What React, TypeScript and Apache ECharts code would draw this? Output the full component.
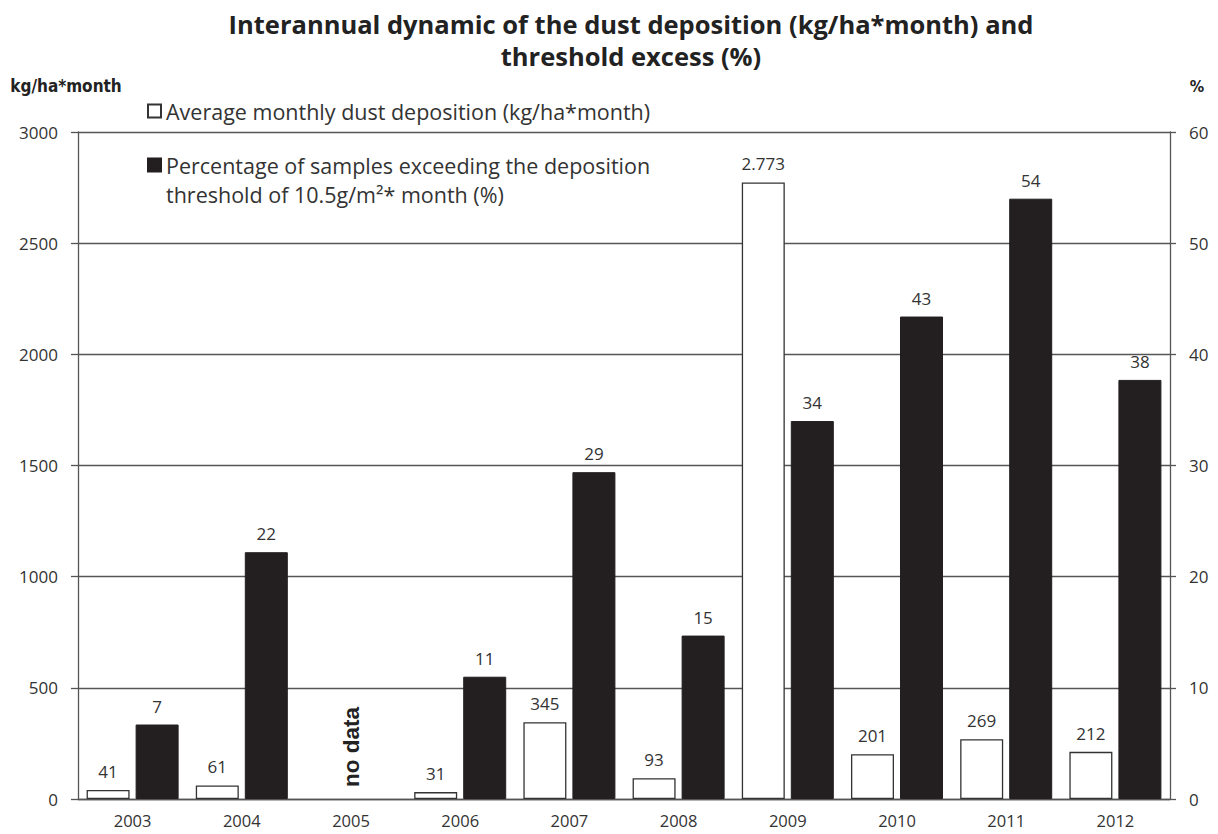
import React, { useEffect, useRef } from "react";
import * as echarts from "echarts";

const years = ["2003", "2004", "2005", "2006", "2007", "2008", "2009", "2010", "2011", "2012"];
const avgDeposition = [41, 61, null, 31, 345, 93, 2773, 201, 269, 212];
const exceedPct = [6.7, 22.2, null, 11.0, 29.4, 14.7, 34.0, 43.4, 54.0, 37.7];
const leftTicks = { min: 0, max: 3000, interval: 500 };
const rightTicks = { min: 0, max: 60, interval: 10 };
const noDataYear = "2005";

const titleText = "Interannual dynamic of the dust deposition (kg/ha*month) and\nthreshold excess (%)";
const nameAvg = "Average monthly dust deposition (kg/ha*month)";
const namePct = "Percentage of samples exceeding the deposition\nthreshold of 10.5g/m²* month (%)";

const FONT = "'Open Sans', sans-serif";
const NARROW = "'DejaVu Sans Condensed', 'Liberation Sans Narrow', 'Liberation Sans', sans-serif";

function fmtThousands(v: number): string {
  const s = String(Math.round(v));
  return s.replace(/\B(?=(\d{3})+(?!\d))/g, ".");
}

export default function App() {
  const ref = useRef<HTMLDivElement>(null);
  useEffect(() => {
    if (!ref.current) return;
    const chart = echarts.init(ref.current, null, { renderer: "svg" });
    const axisLineStyle = { color: "#555", width: 1.3 };
    chart.setOption({
      animation: false,
      backgroundColor: "#fff",
      textStyle: { fontFamily: FONT },
      title: {
        text: titleText,
        left: 626,
        textAlign: "center",
        top: 3,
        textStyle: {
          fontFamily: FONT,
          fontWeight: "bold",
          fontSize: 25.5,
          lineHeight: 32,
          color: "#222",
        },
      },
      legend: {
        orient: "vertical",
        left: 142,
        top: 91.5,
        itemGap: 25,
        itemWidth: 13,
        itemHeight: 13,
        icon: "rect",
        selectedMode: false,
        formatter: (name: string) => name.split("\n")[0],
        textStyle: {
          fontFamily: FONT,
          fontSize: 21.5,
          color: "#333",
          lineHeight: 29,
        },
        data: [nameAvg, namePct],
      },
      grid: { left: 78, right: 48, top: 132, bottom: 35 },
      xAxis: {
        type: "category",
        data: years,
        axisLine: { lineStyle: axisLineStyle },
        axisTick: { length: 7, lineStyle: axisLineStyle },
        axisLabel: { fontFamily: FONT, fontSize: 16.5, color: "#333", margin: 13 },
      },
      yAxis: [
        {
          type: "value",
          ...leftTicks,
          name: "kg/ha*month",
          nameLocation: "end",
          nameGap: 38,
          nameTextStyle: {
            fontFamily: NARROW,
            fontWeight: "bold",
            fontSize: 17,
            color: "#222",
            padding: [0, 24, 0, 0],
          },
          axisLine: { show: true, lineStyle: axisLineStyle },
          axisTick: { show: true, length: 7, lineStyle: axisLineStyle },
          axisLabel: {
            fontFamily: FONT,
            fontSize: 17,
            color: "#333",
            margin: 20,
            formatter: (v: number) => String(v),
          },
          splitLine: { show: true, lineStyle: { color: "#555", width: 1.3 } },
        },
        {
          type: "value",
          ...rightTicks,
          name: "%",
          nameLocation: "end",
          nameGap: 38,
          nameTextStyle: {
            fontFamily: NARROW,
            fontWeight: "bold",
            fontSize: 16,
            color: "#222",
            padding: [0, 0, 0, 54],
          },
          axisLine: { show: true, lineStyle: axisLineStyle },
          axisTick: { show: true, length: 6, lineStyle: axisLineStyle },
          axisLabel: { fontFamily: FONT, fontSize: 17, color: "#333", margin: 19 },
          splitLine: { show: false },
        },
      ],
      series: [
        {
          name: nameAvg,
          type: "bar",
          yAxisIndex: 0,
          data: avgDeposition,
          barWidth: 43,
          barGap: "14%",
          itemStyle: { color: "#ffffff", borderColor: "#333", borderWidth: 1.3 },
          label: {
            show: true,
            position: "top",
            distance: 10,
            fontFamily: FONT,
            fontSize: 17,
            color: "#333",
            formatter: (p: any) => (p.value == null ? "" : fmtThousands(p.value)),
          },
        },
        {
          name: namePct,
          type: "bar",
          yAxisIndex: 1,
          data: exceedPct,
          barWidth: 43,
          barGap: "14%",
          itemStyle: { color: "#231f20", borderColor: "#231f20", borderWidth: 1 },
          label: {
            show: true,
            position: "top",
            distance: 10,
            fontFamily: FONT,
            fontSize: 17,
            color: "#333",
            formatter: (p: any) => (p.value == null ? "" : String(Math.round(p.value))),
          },
        },
      ],
    });
    const px = chart.convertToPixel({ xAxisIndex: 0 }, noDataYear) as number;
    const py = chart.convertToPixel({ yAxisIndex: 0 }, 0) as number;
    chart.setOption({
      graphic: [
        {
          type: "text",
          x: px,
          y: py - 52,
          rotation: Math.PI / 2,
          style: {
            text: "no data",
            fontFamily: "'Liberation Sans', Arial, sans-serif",
            fontWeight: "bold",
            fontSize: 22.5,
            fill: "#222",
            align: "center",
            verticalAlign: "middle",
          },
        },
        {
          type: "text",
          left: 166,
          top: 180,
          style: {
            text: namePct.split("\n")[1],
            fontFamily: FONT,
            fontSize: 21.5,
            lineHeight: 29,
            fill: "#333",
          },
        },
      ],
    });
    return () => chart.dispose();
  }, []);
  return (
    <div
      ref={ref}
      style={{ position: "absolute", left: 0, top: 0, width: 1218, height: 834 }}
    />
  );
}
